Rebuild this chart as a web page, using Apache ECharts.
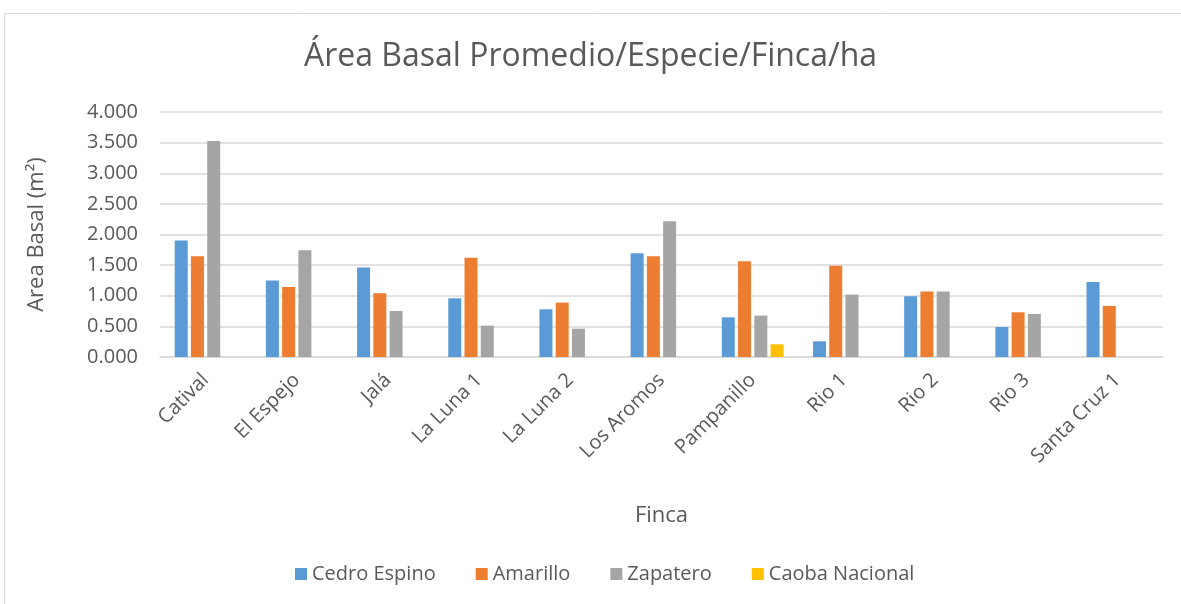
<!DOCTYPE html>
<html>
<head>
<meta charset="utf-8">
<script src="https://cdn.jsdelivr.net/npm/echarts@6/dist/echarts.min.js"></script>
<style>
    html, body {margin: 0; padding: 0; background: #fff;}
    #chart {width: 1181px; height: 604px;}
</style>
</head>
<body>
<div id="chart"></div>
<script>
    const fincas = ['Catival', 'El Espejo', 'Jalá', 'La Luna 1', 'La Luna 2', 'Los Aromos', 'Pampanillo', 'Rio 1', 'Rio 2', 'Rio 3', 'Santa Cruz 1'];
    const cedroEspino = [1.902, 1.248, 1.460, 0.959, 0.779, 1.695, 0.648, 0.256, 0.992, 0.490, 1.226];
    const amarillo = [1.646, 1.144, 1.041, 1.619, 0.888, 1.646, 1.564, 1.488, 1.068, 0.730, 0.834];
    const zapatero = [3.526, 1.744, 0.752, 0.512, 0.463, 2.218, 0.676, 1.019, 1.068, 0.703, null];
    const caobaNacional = [null, null, null, null, null, null, 0.207, null, null, null, null];

    const font = '"Open Sans", sans-serif';
    const textColor = '#595959';

    const myChart = echarts.init(document.getElementById('chart'));

    const bar = (name, data, color) => ({
        name: name,
        type: 'bar',
        data: data,
        barWidth: 13,
        barGap: '25%',
        itemStyle: {color: color}
    });

    const option = {
        animation: false,
        textStyle: {fontFamily: font},
        title: {
            text: 'Área Basal Promedio/Especie/Finca/ha',
            left: 'center',
            top: 36,
            textStyle: {fontFamily: font, fontSize: 32, fontWeight: 'normal', color: textColor}
        },
        graphic: [{
            type: 'rect',
            shape: {x: 4.5, y: 13.5, width: 1190, height: 600},
            style: {fill: 'none', stroke: '#d9d9d9', lineWidth: 1}
        }],
        legend: {
            bottom: 15,
            left: 290,
            itemWidth: 12,
            itemHeight: 12,
            itemGap: 40,
            icon: 'rect',
            textStyle: {fontFamily: font, fontSize: 20, color: textColor},
            data: ['Cedro Espino', 'Amarillo', 'Zapatero', 'Caoba Nacional']
        },
        grid: {left: 160, right: 18, top: 112, bottom: 247, containLabel: false},
        xAxis: {
            type: 'category',
            data: fincas,
            name: 'Finca',
            nameLocation: 'middle',
            nameGap: 148,
            nameTextStyle: {fontFamily: font, fontSize: 22, color: textColor},
            axisLine: {lineStyle: {color: '#d9d9d9', width: 1.5}},
            axisTick: {show: false},
            axisLabel: {rotate: 45, interval: 0, margin: 20, fontFamily: font, fontSize: 20, color: textColor}
        },
        yAxis: {
            type: 'value',
            min: 0,
            max: 4,
            interval: 0.5,
            name: 'Area Basal (m²)',
            nameLocation: 'middle',
            nameGap: 112,
            nameTextStyle: {fontFamily: font, fontSize: 22, color: textColor},
            axisLine: {show: false},
            axisTick: {show: false},
            axisLabel: {
                margin: 22,
                fontFamily: font,
                fontSize: 20,
                color: textColor,
                formatter: v => v.toFixed(3)
            },
            splitLine: {lineStyle: {color: '#d9d9d9', width: 1.5}}
        },
        series: [
            bar('Cedro Espino', cedroEspino, '#5B9BD5'),
            bar('Amarillo', amarillo, '#ED7D31'),
            bar('Zapatero', zapatero, '#A5A5A5'),
            bar('Caoba Nacional', caobaNacional, '#FFC000')
        ]
    };

    option && myChart.setOption(option);
</script>
</body>
</html>
